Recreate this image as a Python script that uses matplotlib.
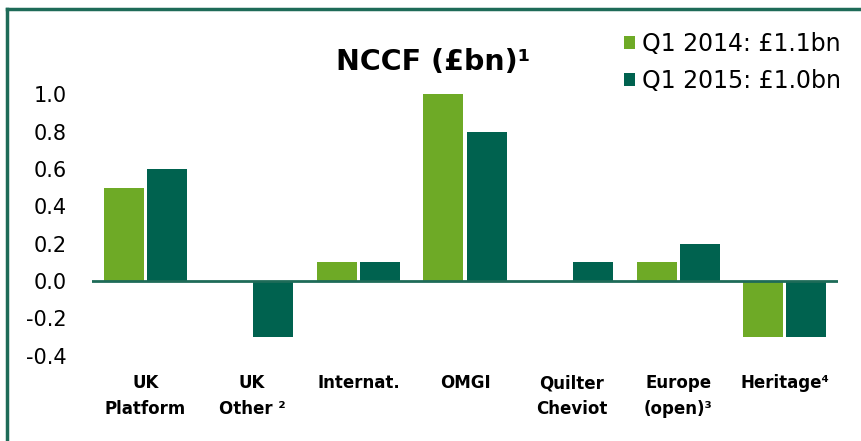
import matplotlib.pyplot as plt
from matplotlib.lines import Line2D
import numpy as np

# NCCF by business, £bn
categories = ['UK\nPlatform', 'UK\nOther \u00b2', 'Internat.', 'OMGI',
              'Quilter\nCheviot', 'Europe\n(open)\u00b3', 'Heritage\u2074']
q1_2014 = [0.5, 0.0, 0.1, 1.0, 0.0, 0.1, -0.3]
q1_2015 = [0.6, -0.3, 0.1, 0.8, 0.1, 0.2, -0.3]
series_labels = ['Q1 2014: \u00a31.1bn', 'Q1 2015: \u00a31.0bn']
yticks = [-0.4, -0.2, 0.0, 0.2, 0.4, 0.6, 0.8, 1.0]

light_green = '#6EAA26'
dark_green = '#00624F'
border = '#1E6B58'

plt.rcParams['font.family'] = ['DejaVu Sans']

fig = plt.figure(figsize=(8.62, 4.41), dpi=100)
ax = fig.add_axes([92 / 862, 1 - 355.6 / 441, 746 / 862, (355.6 - 85) / 441])

x = np.arange(len(categories))
w = 0.375
ax.bar(x - w / 2 - 0.015, q1_2014, w, color=light_green, label=series_labels[0])
ax.bar(x + w / 2 + 0.015, q1_2015, w, color=dark_green, label=series_labels[1])
ax.axhline(0, color=border, lw=2)

ax.set_xlim(-0.5, 6.5)
ax.set_ylim(-0.4, 1.05)
ax.set_yticks(yticks)
ax.set_yticklabels(['%.1f' % v for v in yticks], fontsize=15)
ax.tick_params(axis='y', length=0, pad=18)
ax.set_xticks([])
for s in ax.spines.values():
    s.set_visible(False)

# category labels below the plot
for i, c in enumerate(categories):
    ax.text(i, -0.5, c, ha='center', va='top', fontsize=12, fontweight='bold',
            linespacing=1.55)

fig.text(0.502, 0.86, 'NCCF (\u00a3bn)\u00b9', ha='center', va='center',
         fontsize=20.5, fontweight='bold')

ax.legend(loc='upper left', bbox_to_anchor=(0.685, 1.275), frameon=False,
          fontsize=17, handlelength=0.45, handleheight=0.45, handletextpad=0.3,
          labelspacing=0.56)

# frame: top and left edges
fig.add_artist(Line2D([7 / 862, 7 / 862], [0, 1 - 9 / 441], color=border, lw=2.5))
fig.add_artist(Line2D([7 / 862, 1], [1 - 9 / 441, 1 - 9 / 441], color=border, lw=2.5))

fig.savefig('out.png', dpi=100)
